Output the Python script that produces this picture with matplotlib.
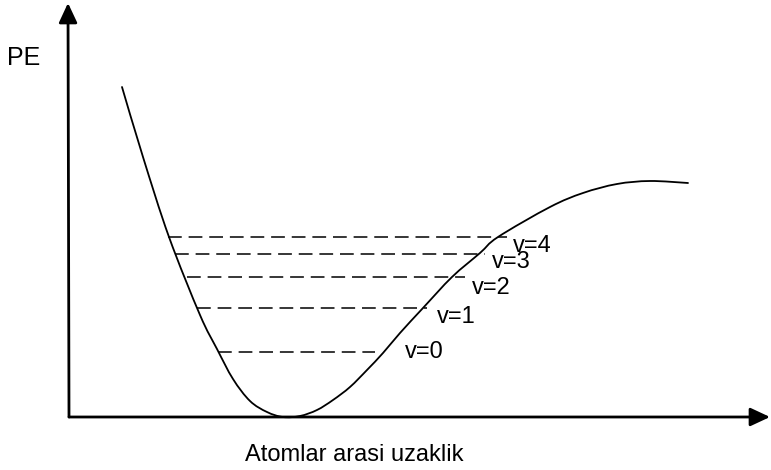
import matplotlib
matplotlib.use("Agg")
import matplotlib.pyplot as plt
from matplotlib.path import Path
from matplotlib.patches import PathPatch
import numpy as np

plt.rcParams['font.family'] = ['Liberation Sans', 'DejaVu Sans']

# Potential energy curve (x: distance, y: energy), origin at axis corner
curve_x = [53, 74, 100, 131, 148, 164, 181, 198, 214, 231, 248, 264, 281, 298, 314, 331, 354, 383, 411, 429, 481, 514, 548, 581, 619]
curve_y = [331, 261, 181, 103, 69, 39, 17, 6, 1, 2, 8, 18, 31, 48, 65, 85, 110, 141, 165, 181, 211, 225, 234, 237, 235]

# Vibrational levels
level_names = ["v=0", "v=1", "v=2", "v=3", "v=4"]
level_y = [66, 110, 141, 164, 181]
level_left = [149, 128, 118, 106, 99]
level_right = [306, 358, 396, 416, 438]
label_x = [336, 368, 403, 423, 444]
label_y = [66, 101, 130, 156, 172]

x_label = "Atomlar arasi uzaklik"
y_label = "PE"

fig = plt.figure(figsize=(7.71, 4.70), dpi=100)
ax = fig.add_axes([0, 0, 1, 1])
ax.set_xlim(-69, 702)
ax.set_ylim(-52, 418)
ax.axis('off')

# smooth curve through the read points (Catmull-Rom -> cubic Bezier path)
P = np.column_stack([curve_x, curve_y]).astype(float)
verts = [P[0]]
codes = [Path.MOVETO]
n = len(P)
for i in range(n - 1):
    p0 = P[i - 1] if i > 0 else P[i]
    p1 = P[i]
    p2 = P[i + 1]
    p3 = P[i + 2] if i + 2 < n else P[i + 1]
    c1 = p1 + (p2 - p0) / 6.0
    c2 = p2 - (p3 - p1) / 6.0
    verts += [c1, c2, p2]
    codes += [Path.CURVE4] * 3
ax.add_patch(PathPatch(Path(verts, codes), fill=False, edgecolor='black', lw=1.3, capstyle='round'))

for yv, xl, xr in zip(level_y, level_left, level_right):
    ax.plot([xl, xr], [yv, yv], color='black', lw=1.1, dashes=(9, 4.5))

for name, lx, ly in zip(level_names, label_x, label_y):
    ax.text(lx, ly, name, fontsize=17, ha='left', va='center')

arrow = dict(arrowstyle='-|>,head_length=0.6,head_width=0.28', mutation_scale=20,
             lw=2, color='black', shrinkA=0, shrinkB=0)
ax.annotate('', xy=(701, 1), xytext=(0, 1), arrowprops=arrow)
ax.annotate('', xy=(-1, 415), xytext=(0, 1), arrowprops=arrow)

ax.text(-62, 360, y_label, fontsize=18, ha='left', va='center')
ax.text(176, -37, x_label, fontsize=17, ha='left', va='center')

fig.savefig('out.png', dpi=100)
